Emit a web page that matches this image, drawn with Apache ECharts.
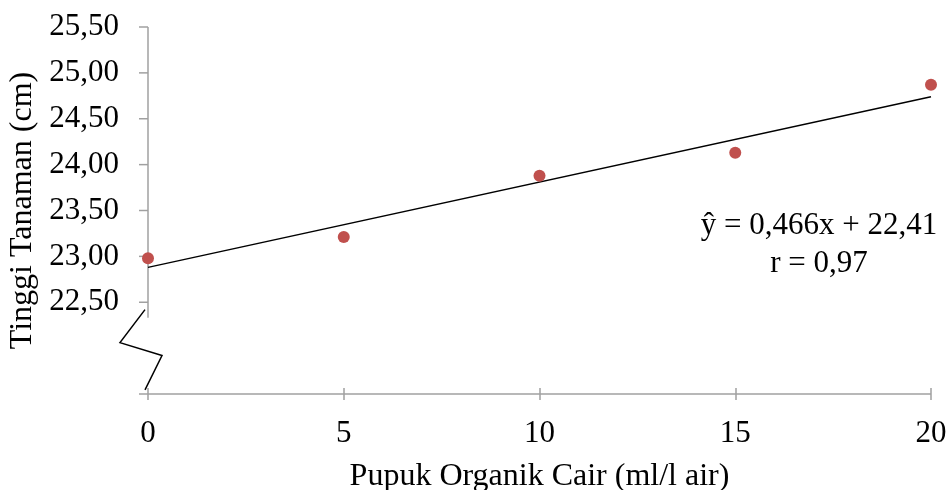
<!DOCTYPE html>
<html>
<head>
<meta charset="utf-8">
<script src="https://cdn.jsdelivr.net/npm/echarts@6/dist/echarts.min.js"></script>
<style>html,body{margin:0;padding:0;background:#fff}#c{width:951px;height:490px}</style>
</head>
<body>
<div id="c"></div>
<script>
// ---- data ----
const xValues = [0, 5, 10, 15, 20];
const yValues = [22.98, 23.21, 23.88, 24.13, 24.87];
const trendX = [0, 20];
const trendY = [22.88, 24.74];
const yTickValues = [22.5, 23, 23.5, 24, 24.5, 25, 25.5];
const xTickValues = [0, 5, 10, 15, 20];
const xTitle = 'Pupuk Organik Cair (ml/l air)';
const yTitle = 'Tinggi Tanaman (cm)';
const eqLines = ['ŷ = 0,466x + 22,41', 'r = 0,97'];

const FONT = '"Liberation Serif","Times New Roman",serif';
const FS = 31;
const FS_NAME = 32;
const AXIS_GRAY = '#a0a0a0';

const chart = echarts.init(document.getElementById('c'), null, {renderer: 'canvas'});

const option = {
  animation: false,
  backgroundColor: '#fff',
  grid: {left: 148, right: 20, top: 27, bottom: 96, containLabel: false, outerBoundsMode: 'none'},
  xAxis: [{
    type: 'value', min: 0, max: 20, interval: 5,
    axisLine: {show: false},
    axisTick: {show: true, inside: false, length: 6, lineStyle: {color: AXIS_GRAY, width: 1.5}},
    splitLine: {show: false},
    axisLabel: {fontFamily: FONT, fontSize: FS, color: '#000', margin: 24},
    name: xTitle, nameLocation: 'middle', nameGap: 67,
    nameTextStyle: {fontFamily: FONT, fontSize: FS_NAME, color: '#000'}
  }, {
    type: 'value', min: 0, max: 20, interval: 5, position: 'bottom',
    axisLine: {show: false},
    axisTick: {show: true, inside: true, length: 6, lineStyle: {color: AXIS_GRAY, width: 1.5}},
    splitLine: {show: false},
    axisLabel: {show: false}
  }],
  yAxis: {
    type: 'value', min: 21.5, max: 25.5, interval: 0.5,
    axisLine: {show: false},
    axisTick: {show: false},
    splitLine: {show: false},
    axisLabel: {
      fontFamily: FONT, fontSize: FS, color: '#000', margin: 29,
      formatter: v => (yTickValues.indexOf(v) >= 0 ? v.toFixed(2).replace('.', ',') : '')
    },
    name: yTitle, nameLocation: 'middle', nameGap: 105,
    nameTextStyle: {fontFamily: FONT, fontSize: FS_NAME, color: '#000'}
  },
  series: [{
    type: 'line',
    data: trendX.map((x, i) => [x, trendY[i]]),
    symbol: 'none',
    lineStyle: {color: '#000', width: 1.5},
    silent: true, z: 2
  }, {
    type: 'scatter',
    data: xValues.map((x, i) => [x, yValues[i]]),
    symbol: 'circle', symbolSize: 12,
    itemStyle: {color: '#C0504D', opacity: 1},
    z: 3
  }]
};
chart.setOption(option);

// axis lines, ticks and axis break drawn from the library's own scale
const px = (x, y) => chart.convertToPixel({gridIndex: 0}, [x, y]);
const g = [];
const pTop = px(0, 25.5);
const pLow = px(0, 22.33);
g.push({type: 'line', shape: {x1: pTop[0], y1: pTop[1], x2: pLow[0], y2: pLow[1]},
  style: {stroke: AXIS_GRAY, lineWidth: 1.5}, z: 1});
yTickValues.forEach(v => {
  const p = px(0, v);
  g.push({type: 'line', shape: {x1: p[0] - 9, y1: p[1], x2: p[0], y2: p[1]},
    style: {stroke: AXIS_GRAY, lineWidth: 1.5}, z: 1});
});
const x0 = px(0, 21.5), x20 = px(20, 21.5);
g.push({type: 'line', shape: {x1: x0[0] - 9, y1: x0[1], x2: x20[0], y2: x20[1]},
  style: {stroke: AXIS_GRAY, lineWidth: 1.5}, z: 1});
// axis break zigzag
const b1 = px(0, 22.42), b2 = px(0, 22.06), b3 = px(0, 21.92), b4 = px(0, 21.545);
g.push({type: 'polyline', shape: {points: [
  [b1[0] - 3, b1[1]], [b2[0] - 28, b2[1]], [b3[0] + 14, b3[1]], [b4[0] - 3, b4[1]]
]}, style: {stroke: '#000', lineWidth: 1.5, fill: null}, z: 5});
// equation text
g.push({type: 'text', x: 819, y: 245, style: {
  text: eqLines.join('\n'), font: FS + 'px ' + FONT, fill: '#000',
  textAlign: 'center', textVerticalAlign: 'middle', lineHeight: 38
}, z: 5});
chart.setOption({graphic: g});
</script>
</body>
</html>
